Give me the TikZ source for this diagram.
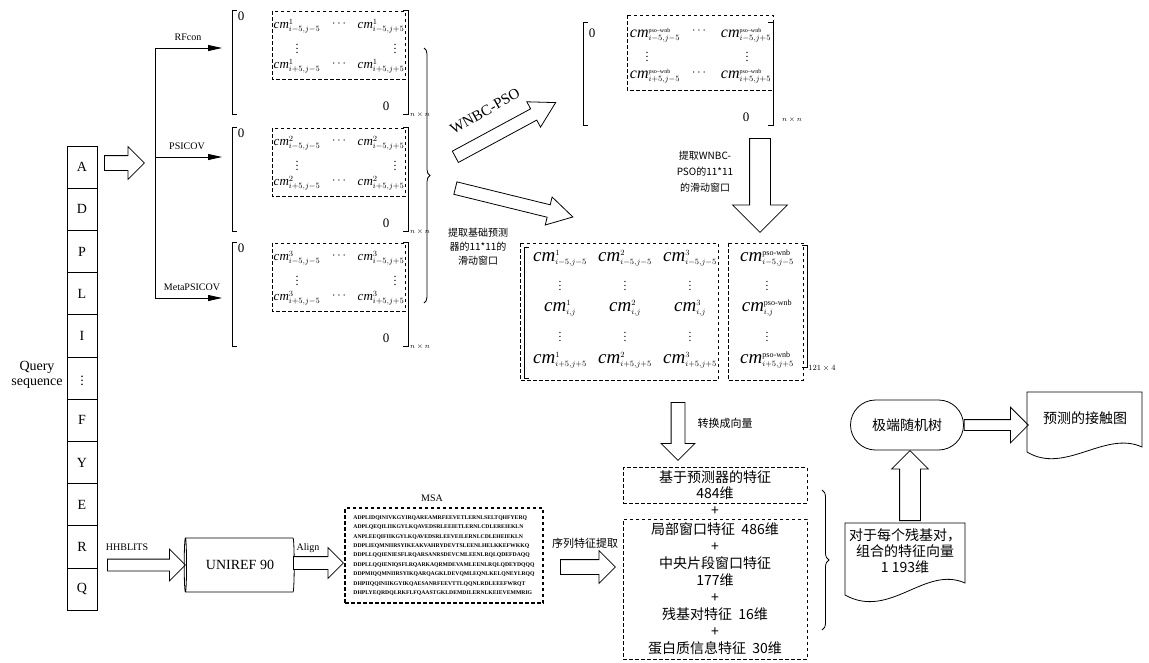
\documentclass[tikz,border=0pt]{standalone}
\usepackage{amsmath}
\usepackage{fontspec}
\setmainfont{Liberation Serif}
\newfontfamily\cjk{Noto Sans CJK SC}
\usetikzlibrary{arrows.meta,shapes.arrows,shapes.geometric,decorations.pathreplacing}
% big italic cm with the scripts of the node font
\newcommand{\cmx}[3]{$\text{\fontsize{#1}{#1}\selectfont\textit{cm}}^{#2}_{#3}$}

\begin{document}
\begin{tikzpicture}[x=1pt,y=-1pt,line width=0.8pt,
  dbox/.style={dash pattern=on 3.5pt off 2.5pt},
  fatarrow/.style n args={3}{single arrow,draw,fill=white,inner sep=0pt,inner ysep=#2,
    single arrow head extend=#3,minimum height=#1,minimum width=0pt,anchor=tail},
  conn/.style={-{Triangle[length=14pt,width=6pt]}},
  ent/.style={font=\fontsize{12}{12}\selectfont,inner sep=0pt},
  rent/.style={font=\fontsize{11.5}{11.5}\selectfont,inner sep=0pt},
  num/.style={font=\fontsize{13}{13}\selectfont},
  sm/.style={font=\fontsize{10}{12}\selectfont},
  tiny/.style={font=\fontsize{7}{7}\selectfont},
  zh/.style={font=\cjk\fontsize{10}{15}\selectfont,align=center},
  zhbig/.style={font=\cjk\fontsize{14}{16}\selectfont,align=center},
  seqbox/.style={draw,minimum width=30,minimum height=42.2,inner sep=0pt,font=\fontsize{14}{14}\selectfont}]
\useasboundingbox (0,0) rectangle (1149,662);

% query sequence
\node[font=\fontsize{14}{15}\selectfont,align=center] (qlbl) at (37,375) {Query\\sequence};
\foreach \c [count=\i] in {A,D,P,L,I,$\vdots$,F,Y,E,R,Q}
  \node[seqbox] (s\i) at (82,124.9+42.2*\i) {\c};

% base predictors
\node[fatarrow={40}{7}{9}] (a0) at (104,163) {};
\coordinate (br1) at (155,48);
\coordinate (br2) at (155,157);
\coordinate (br3) at (155,298);
\draw (br1) -- (br3);
\foreach \i/\y/\t/\lx in {1/48/RFcon/188,2/157/PSICOV/187,3/298/MetaPSICOV/192}{
  \coordinate (tip\i) at (222,\y);
  \draw[conn] (br\i) -- (tip\i);
  \node[sm] (p\i) at (\lx,\y-11) {\t};
}

% three n x n matrices
\foreach \k/\T in {1/10,2/127,3/242}{
  \draw (237,\T) -- (232,\T) -- (232,\T+104) -- (237,\T+104);
  \draw (403,\T) -- (408,\T) -- (408,\T+104) -- (403,\T+104);
  \draw[dbox] (272,\T+1) rectangle (405,\T+69);
  \node[num] (m\k-z1) at (241,\T+6) {0};
  \node[num] (m\k-z2) at (386,\T+96) {0};
  \node[ent] (m\k-a) at (297,\T+16) {\cmx{13}{\k}{i-5,j-5}};
  \node[ent] (m\k-b) at (340,\T+14) {$\cdots$};
  \node[ent] (m\k-c) at (381,\T+16) {\cmx{13}{\k}{i-5,j+5}};
  \node[ent] (m\k-d) at (297,\T+36) {$\vdots$};
  \node[ent] (m\k-e) at (395,\T+36) {$\vdots$};
  \node[ent] (m\k-f) at (297,\T+56) {\cmx{13}{\k}{i+5,j-5}};
  \node[ent] (m\k-g) at (340,\T+54) {$\cdots$};
  \node[ent] (m\k-h) at (381,\T+56) {\cmx{13}{\k}{i+5,j+5}};
  \node[tiny] (m\k-n) at (420,\T+105) {$n\times n$};
}
\draw[decorate,decoration={brace,amplitude=6pt}] (424,48) -- (424,303);

% WNBC-PSO
\node[fatarrow={114}{6}{8},single arrow tip angle=60,rotate=28.4] (a1) at (455,157) {};
\node[font=\fontsize{15}{15}\selectfont,rotate=29.5] (wlbl) at (485,111) {WNBC-PSO};
\node[fatarrow={121}{6}{8},single arrow tip angle=60,rotate=-13.8] (a2) at (455,188) {};
\node[zh,font=\cjk\fontsize{10}{14}\selectfont] (xlbl) at (478,247) {提取基础预测\\器的11*11的\\滑动窗口};

\draw (588,22) -- (583,22) -- (583,125) -- (588,125);
\draw (768,22) -- (773,22) -- (773,125) -- (768,125);
\draw[dbox] (627,15) rectangle (773,90);
\node[num] (w-z1) at (592,33) {0};
\node[num] (w-z2) at (746,117) {0};
\node[ent] (w-a) at (655,35) {\cmx{16}{\text{\fontsize{6}{6}\selectfont pso--wnb}}{i-5,j-5}};
\node[ent] (w-b) at (700,31) {$\cdots$};
\node[ent] (w-c) at (746,35) {\cmx{16}{\text{\fontsize{6}{6}\selectfont pso--wnb}}{i-5,j+5}};
\node[ent] (w-d) at (647,54) {$\vdots$};
\node[ent] (w-e) at (747,54) {$\vdots$};
\node[ent] (w-f) at (655,76) {\cmx{16}{\text{\fontsize{6}{6}\selectfont pso--wnb}}{i+5,j-5}};
\node[ent] (w-g) at (700,73) {$\cdots$};
\node[ent] (w-h) at (746,76) {\cmx{16}{\text{\fontsize{6}{6}\selectfont pso--wnb}}{i+5,j+5}};
\node[tiny] (w-n) at (792,120) {$n\times n$};

\node[fatarrow={94}{10}{17},rotate=-90] (a3) at (760,138) {};
\node[zh,font=\cjk\fontsize{10}{16}\selectfont] (wxlbl) at (705,172) {提取WNBC-\\PSO的11*11\\的滑动窗口};

% 121 x 4 window matrix
\draw (529,247) -- (524,247) -- (524,378) -- (529,378);
\draw (802,245) -- (807,245) -- (807,367) -- (802,367);
\draw[dbox] (520,243) rectangle (718,380);
\draw[dbox] (728,243) rectangle (803,380);
\foreach \k/\x in {1/560,2/625,3/690}{
  \node[rent] (r\k-a) at (\x,258) {\cmx{19}{\k}{i-5,j-5}};
  \node[rent] (r\k-b) at (\x,283) {$\vdots$};
  \node[rent] (r\k-c) at (\x,308) {\cmx{19}{\k}{i,j}};
  \node[rent] (r\k-d) at (\x,334) {$\vdots$};
  \node[rent] (r\k-e) at (\x,360) {\cmx{19}{\k}{i+5,j+5}};
}
\node[rent] (r4-a) at (767,258) {\cmx{19}{\text{pso-wnb}}{i-5,j-5}};
\node[rent] (r4-b) at (767,283) {$\vdots$};
\node[rent] (r4-c) at (767,308) {\cmx{19}{\text{pso-wnb}}{i,j}};
\node[rent] (r4-d) at (767,334) {$\vdots$};
\node[rent] (r4-e) at (767,360) {\cmx{19}{\text{pso-wnb}}{i+5,j+5}};
\node[font=\fontsize{8}{8}\selectfont] (r-n) at (822,368) {$121\times 4$};

\node[fatarrow={58}{6.5}{10},rotate=-90] (a4) at (678,402) {};
\node[zh,font=\cjk\fontsize{11}{11}\selectfont] (vlbl) at (725,423) {转换成向量};

% feature vector
\node[draw,dbox,minimum width=184,minimum height=35,zhbig] (f1) at (715,485.5) {基于预测器的特征\\484维};
\node[zhbig] (plus) at (715,511) {+};
\node[draw,dbox,minimum width=184,minimum height=140,zhbig,font=\cjk\fontsize{14}{17}\selectfont] (f2) at (715,589)
  {局部窗口特征\ \ 486维\\+\\中央片段窗口特征\\177维\\+\\残基对特征\ \ 16维\\+\\蛋白质信息特征\ \ 30维};
\draw[decorate,decoration={brace,amplitude=7pt}] (822,490) -- (822,630);

\draw (845,523) -- (965,523) -- (965,583) .. controls (925,565) and (890,620) .. (845,595) -- cycle;
\node[zhbig] (d2) at (905,551) {对于每个残基对，\\组合的特征向量\\1 193维};
\node[draw,rounded corners=25pt,minimum width=113,minimum height=50,zhbig] (etr) at (907,425) {极端随机树};
\node[fatarrow={70}{10}{8},rotate=90] (a5) at (910,521) {};
\node[fatarrow={64}{5}{12.5}] (a6) at (etr.east) {};
\draw (1027,392) -- (1142,392) -- (1142,447) .. controls (1105,430) and (1065,475) .. (1027,452) -- cycle;
\node[zhbig] (d1) at (1085,418) {预测的接触图};

% MSA branch
\node[sm] (hhl) at (127,547) {HHBLITS};
\node[fatarrow={78}{5.5}{10}] (a7) at (107,565) {};
\node[cylinder,draw,shape border rotate=180,aspect=0.25,minimum width=54,minimum height=110,inner sep=0pt,
  font=\fontsize{14}{14}\selectfont] (uni) at (240,565) {UNIREF 90};
\node[sm] (al) at (308,548) {Align};
\node[fatarrow={50}{6}{9}] (a8) at (293,563) {};
\node[sm] (msal) at (432,498) {MSA};
\node[draw,dbox,line width=1.4pt,minimum width=198,minimum height=95,align=left,font=\bfseries\fontsize{5.7}{9.4}\selectfont] (msa) at (444,555.5)
  {ADPLIDQINIVKGYIRQAREAMRFEEVETLERNLSELTQHFYERQ\\
   ADPLQEQILIIKGYLKQAVEDSRLEEIETLERNLCDLEREIEKLN\\
   ANPLEEQIFIIKGYLKQAVEDSRLEEVEILERNLCDLEHEIEKLN\\
   DDPLIEQMNIIRSYIKEAKVAHRYDEVTSLEENLHELKKEFWKKQ\\
   DDPLLQQIENIESFLRQARSANRSDEVCMLEENLRQLQDEFDAQQ\\
   DDPLLQQIENIQSFLRQARKAQRMDEVAMLEENLRQLQDEYDQQQ\\
   DDPMIQQMNIIRSYIKQARQAGKLDEVQMLEQNLKELQNEYLRQQ\\
   DHPIIQQINIIKGYIKQAESANRFEEVTTLQQNLRDLEEEFWRQT\\
   DHPLYEQRDQLRKFLFQAASTGKLDEMDILERNLKEIEVEMMRIG};
\node[zh,font=\cjk\fontsize{11}{11}\selectfont] (fl) at (585,543) {序列特征提取};
\node[fatarrow={55}{7}{9}] (a9) at (560,567) {};
\end{tikzpicture}
\end{document}
